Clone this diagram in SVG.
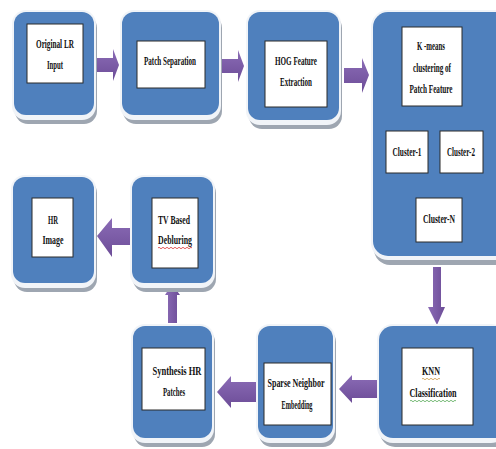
<svg xmlns="http://www.w3.org/2000/svg" width="496" height="449" viewBox="0 0 496 449">
<defs>
<linearGradient id="pg" x1="0" y1="0" x2="0" y2="1">
<stop offset="0" stop-color="#8b6cb6"/><stop offset="1" stop-color="#6c4c97"/>
</linearGradient>
<linearGradient id="pgv" x1="0" y1="0" x2="1" y2="0">
<stop offset="0" stop-color="#8b6cb6"/><stop offset="1" stop-color="#6c4c97"/>
</linearGradient>
</defs>
<style>
.sh{fill:#9ea6b1}
.rim{fill:#f1f4f8}
.blue{fill:#4f80bd}
.in{fill:#ffffff;stroke:#2b2b2b;stroke-width:1}
text{font-family:"Liberation Serif","Times New Roman",serif;font-weight:bold;font-size:13.5px;fill:#111}
.arr{fill:url(#pg)}
.arrv{fill:url(#pgv)}
.sq{fill:none;stroke-width:0.8}
</style>
<rect width="496" height="449" fill="#ffffff"/>

<g id="connectors">
<path class="arr" d="M97,58 H113 V49 L119,65 L113,81 V72 H97 Z"/>
<path class="arr" d="M222,59 H238 V50 L244,66 L238,82 V73 H222 Z"/>
<path class="arr" d="M344,68 H362 V58 L369,75 L362,93 V83 H344 Z"/>
<path class="arrv" d="M433,267 H441 V307 H445 L437,325 L428,307 H433 Z"/>
<path class="arr" d="M377,380 V398 H352 V403 L339,389 L352,375 V380 Z"/>
<path class="arr" d="M257,382 V402 H231 V408 L217,392 L231,376 V382 Z"/>
<path class="arrv" d="M168,323 V295 H165 L172,284 L180,295 H177 V323 Z"/>
<path class="arr" d="M130,228 V245 H112 V257 L97,236 L112,218 V228 Z"/>
</g>

<g id="n-original">
<rect class="sh" x="15" y="15" width="82" height="109" rx="13"/>
<rect class="rim" x="12" y="10" width="84" height="110" rx="14"/>
<rect class="blue" x="14" y="12" width="80" height="103" rx="12"/>
<rect class="in" x="27" y="24" width="56" height="59"/>
<text x="55" y="48" text-anchor="middle" textLength="38" lengthAdjust="spacingAndGlyphs">Original LR</text>
<text x="55" y="69" text-anchor="middle" textLength="16" lengthAdjust="spacingAndGlyphs">Input</text>
</g>

<g id="n-patchsep">
<rect class="sh" x="123" y="15" width="99" height="109" rx="13"/>
<rect class="rim" x="120" y="10" width="101" height="110" rx="14"/>
<rect class="blue" x="122" y="12" width="97" height="103" rx="12"/>
<rect class="in" x="137" y="41" width="68" height="47"/>
<text x="170" y="65" text-anchor="middle" textLength="52" lengthAdjust="spacingAndGlyphs">Patch Separation</text>
</g>

<g id="n-hog">
<rect class="sh" x="249" y="15" width="93" height="114" rx="13"/>
<rect class="rim" x="246" y="10" width="95" height="115" rx="14"/>
<rect class="blue" x="248" y="12" width="91" height="108" rx="12"/>
<rect class="in" x="265" y="41" width="62" height="66"/>
<text x="296" y="65" text-anchor="middle" textLength="42" lengthAdjust="spacingAndGlyphs">HOG Feature</text>
<text x="296" y="86" text-anchor="middle" textLength="32" lengthAdjust="spacingAndGlyphs">Extraction</text>
</g>

<g id="n-kmeans">
<rect class="sh" x="374" y="15" width="140" height="250" rx="16"/>
<rect class="rim" x="371" y="10" width="140" height="250" rx="17"/>
<rect class="blue" x="373" y="12" width="140" height="244" rx="15"/>
<rect class="in" x="402" y="27" width="60" height="79"/>
<text x="431" y="50" text-anchor="middle" textLength="28" lengthAdjust="spacingAndGlyphs">K -means</text>
<text x="432" y="72" text-anchor="middle" textLength="38" lengthAdjust="spacingAndGlyphs">clustering of</text>
<text x="431" y="93" text-anchor="middle" textLength="43" lengthAdjust="spacingAndGlyphs">Patch Feature</text>
</g>

<g id="n-cluster1">
<rect class="in" x="386" y="131" width="42" height="42"/>
<text x="407" y="156" text-anchor="middle" textLength="29" lengthAdjust="spacingAndGlyphs">Cluster-1</text>
</g>

<g id="n-cluster2">
<rect class="in" x="440" y="131" width="43" height="42"/>
<text x="461" y="156" text-anchor="middle" textLength="28" lengthAdjust="spacingAndGlyphs">Cluster-2</text>
</g>

<g id="n-clusterN">
<rect class="in" x="416" y="198" width="46" height="44"/>
<text x="439" y="223" text-anchor="middle" textLength="32" lengthAdjust="spacingAndGlyphs">Cluster-N</text>
</g>

<g id="n-hr">
<rect class="sh" x="14" y="180" width="83" height="112" rx="13"/>
<rect class="rim" x="11" y="175" width="85" height="113" rx="14"/>
<rect class="blue" x="13" y="177" width="81" height="106" rx="12"/>
<rect class="in" x="32" y="198" width="41" height="59"/>
<text x="53" y="224" text-anchor="middle" textLength="10" lengthAdjust="spacingAndGlyphs">HR</text>
<text x="53" y="244" text-anchor="middle" textLength="21" lengthAdjust="spacingAndGlyphs">Image</text>
</g>

<g id="n-tv">
<rect class="sh" x="133" y="180" width="83" height="112" rx="13"/>
<rect class="rim" x="130" y="175" width="85" height="113" rx="14"/>
<rect class="blue" x="132" y="177" width="81" height="106" rx="12"/>
<rect class="in" x="152" y="198" width="46" height="70"/>
<text x="174" y="224" text-anchor="middle" textLength="32" lengthAdjust="spacingAndGlyphs">TV Based</text>
<text x="175" y="244" text-anchor="middle" textLength="34" lengthAdjust="spacingAndGlyphs">Debluring</text>
<path class="sq" stroke="#d33" d="M158,248 q1,-1.5 2,0 t2,0 t2,0 t2,0 t2,0 t2,0 t2,0 t2,0 t2,0 t2,0 t2,0 t2,0 t2,0 t2,0 t2,0 t2,0 t2,0"/>
</g>

<g id="n-synth">
<rect class="sh" x="134" y="329" width="81" height="118" rx="13"/>
<rect class="rim" x="131" y="324" width="83" height="119" rx="14"/>
<rect class="blue" x="133" y="326" width="79" height="112" rx="12"/>
<rect class="in" x="142" y="348" width="63" height="62"/>
<text x="177" y="375" text-anchor="middle" textLength="49" lengthAdjust="spacingAndGlyphs">Synthesis HR</text>
<text x="174" y="396" text-anchor="middle" textLength="22" lengthAdjust="spacingAndGlyphs">Patches</text>
</g>

<g id="n-sparse">
<rect class="sh" x="259" y="329" width="77" height="118" rx="13"/>
<rect class="rim" x="256" y="324" width="79" height="119" rx="14"/>
<rect class="blue" x="258" y="326" width="75" height="112" rx="12"/>
<rect class="in" x="264" y="363" width="67" height="62"/>
<text x="296" y="387" text-anchor="middle" textLength="57" lengthAdjust="spacingAndGlyphs">Sparse Neighbor</text>
<text x="297" y="409" text-anchor="middle" textLength="31" lengthAdjust="spacingAndGlyphs">Embedding</text>
</g>

<g id="n-knn">
<rect class="sh" x="380" y="329" width="130" height="118" rx="15"/>
<rect class="rim" x="377" y="324" width="130" height="119" rx="16"/>
<rect class="blue" x="379" y="326" width="130" height="112" rx="14"/>
<rect class="in" x="402" y="348" width="71" height="77"/>
<text x="431" y="375" text-anchor="middle" textLength="18" lengthAdjust="spacingAndGlyphs">KNN</text>
<path class="sq" stroke="#c94" d="M422,379 q1,-1.5 2,0 t2,0 t2,0 t2,0 t2,0 t2,0 t2,0 t2,0 t2,0"/>
<text x="433" y="397" text-anchor="middle" textLength="47" lengthAdjust="spacingAndGlyphs">Classification</text>
<path class="sq" stroke="#5a5" d="M410,401 q1,-1.5 2,0 t2,0 t2,0 t2,0 t2,0 t2,0 t2,0 t2,0 t2,0 t2,0 t2,0 t2,0 t2,0 t2,0 t2,0 t2,0 t2,0 t2,0 t2,0 t2,0 t2,0 t2,0 t2,0"/>
</g>
</svg>
